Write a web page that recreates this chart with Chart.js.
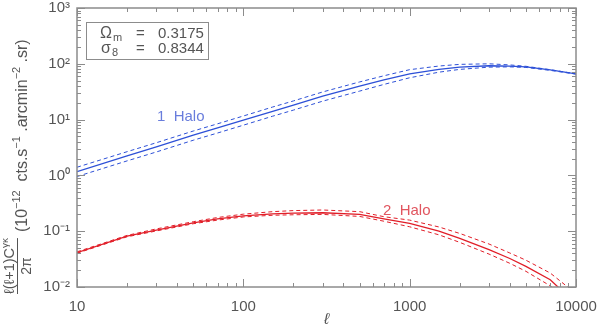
<!DOCTYPE html>
<html>
<head>
<meta charset="utf-8">
<script src="https://cdn.jsdelivr.net/npm/chart.js@4.4.1/dist/chart.umd.min.js"></script>
<style>
  html, body { margin: 0; padding: 0; background: #fff; }
  #wrap { width: 600px; height: 331px; position: relative; }
</style>
</head>
<body>
<div id="wrap"><canvas id="clChart"></canvas></div>
<script>
// multipole grid
const ell = [10, 20, 30, 50, 70, 100, 150, 200, 300, 500, 700, 1000, 1500, 2000, 3000, 4000, 5000, 7000, 10000];

// 1 halo term (solid) and its dashed envelope
const oneHalo      = [1.17, 2.24, 3.24, 5.25, 7.08, 9.77, 14.1, 18.2, 26.3, 39.8, 51.3, 66.1, 79.4, 87.1, 92.3, 91.2, 88.1, 77.6, 66.1];
const oneHaloUpper = [1.40, 2.66, 3.85, 6.24, 8.41, 11.6, 16.8, 21.6, 31.3, 47.3, 61.0, 78.5, 91.2, 97.7, 100.0, 95.5, 90.2, 78.5, 66.1];
const oneHaloLower = [0.955, 1.82, 2.63, 4.27, 5.75, 7.94, 11.5, 14.8, 21.4, 32.4, 42.7, 56.2, 70.8, 79.4, 87.1, 88.1, 86.1, 76.2, 65.3];

// 2 halo term (solid) and its dashed envelope
const twoHalo      = [0.0412, 0.0813, 0.105, 0.141, 0.166, 0.188, 0.204, 0.211, 0.214, 0.200, 0.166, 0.138, 0.100, 0.0741, 0.0468, 0.0324, 0.0234, 0.0135, 0.0050];
const twoHaloUpper = [0.0427, 0.0841, 0.110, 0.148, 0.176, 0.202, 0.224, 0.234, 0.240, 0.224, 0.182, 0.158, 0.119, 0.0912, 0.0589, 0.0407, 0.0302, 0.0178, 0.0076];
const twoHaloLower = [0.0403, 0.0794, 0.101, 0.136, 0.158, 0.180, 0.193, 0.197, 0.200, 0.184, 0.151, 0.120, 0.0861, 0.0631, 0.0389, 0.0266, 0.0191, 0.0105, 0.0040];

const xTicks = [10, 100, 1000, 10000];
const yTicks = [0.01, 0.1, 1, 10, 100, 1000];
const yTickLabels = ['10\u207B\u00B2', '10\u207B\u00B9', '10\u2070', '10\u00B9', '10\u00B2', '10\u00B3'];

const BLUE = 'rgb(45, 80, 215)';
const RED = 'rgb(225, 30, 40)';
const AXIS = 'rgb(140, 140, 140)';
const TEXT = 'rgb(85, 85, 85)';
const FONT = '"Liberation Sans", Arial, sans-serif';

function pts(ys) {
    return ell.map((x, i) => ({ x: x, y: ys[i] }));
}

function series(ys, color, dashed) {
    return {
        data: pts(ys),
        borderColor: color,
        borderWidth: dashed ? 1 : 1.3,
        borderDash: dashed ? [4, 3] : [],
        pointRadius: 0,
        showLine: true,
        tension: 0,
        fill: false
    };
}

// draw a run of text pieces, some raised/lowered and smaller
function drawRuns(ctx, x, y, runs, size) {
    let cx = x;
    runs.forEach(r => {
        const s = r.sup || r.sub ? size * 0.68 : size;
        ctx.font = s + 'px ' + FONT;
        const dy = r.sup ? -size * 0.42 : (r.sub ? size * 0.25 : 0);
        ctx.fillText(r.t, cx, y + dy);
        cx += ctx.measureText(r.t).width;
    });
    return cx - x;
}

function runsWidth(ctx, runs, size) {
    let w = 0;
    runs.forEach(r => {
        const s = r.sup || r.sub ? size * 0.68 : size;
        ctx.font = s + 'px ' + FONT;
        w += ctx.measureText(r.t).width;
    });
    return w;
}

const decorations = {
    id: 'decorations',
    afterDraw(chart) {
        const ctx = chart.ctx;
        const a = chart.chartArea;
        const xs = chart.scales.x;
        const ys = chart.scales.y;
        ctx.save();

        // frame
        ctx.strokeStyle = AXIS;
        ctx.lineWidth = 1.5;
        ctx.strokeRect(a.left, a.top, a.right - a.left, a.bottom - a.top);

        // inward ticks on all four sides
        ctx.lineWidth = 1;
        ctx.beginPath();
        for (let d = 10; d <= 10000; d *= 10) {
            for (let k = 1; k <= 9; k++) {
                const v = k * d;
                if (v > 10000) break;
                const px = Math.round(xs.getPixelForValue(v)) + 0.5;
                const len = k === 1 ? 8 : 4;
                ctx.moveTo(px, a.bottom); ctx.lineTo(px, a.bottom - len);
                ctx.moveTo(px, a.top); ctx.lineTo(px, a.top + len);
            }
        }
        for (let d = 0.01; d <= 1000; d *= 10) {
            for (let k = 1; k <= 9; k++) {
                const v = k * d;
                if (v > ys.max * 1.0001) continue;
                const py = Math.round(ys.getPixelForValue(v)) + 0.5;
                const len = k === 1 ? 8 : 4;
                ctx.moveTo(a.left, py); ctx.lineTo(a.left + len, py);
                ctx.moveTo(a.right, py); ctx.lineTo(a.right - len, py);
            }
        }
        ctx.stroke();

        // parameter box
        ctx.strokeStyle = AXIS;
        ctx.lineWidth = 1;
        ctx.strokeRect(86.5, 22.5, 122, 37);
        ctx.fillStyle = TEXT;
        ctx.textBaseline = 'alphabetic';
        ctx.textAlign = 'left';
        ctx.font = '16px ' + FONT;
        ctx.fillText('\u03A9', 100, 38);
        ctx.fillText('\u03C3', 101, 53);
        ctx.font = '11px ' + FONT;
        ctx.fillText('m', 113, 41);
        ctx.fillText('8', 112, 56);
        ctx.font = '15px ' + FONT;
        ctx.fillText('=', 136, 38);
        ctx.fillText('=', 136, 53);
        ctx.fillText('0.3175', 158, 38);
        ctx.fillText('0.8344', 158, 53);

        // curve labels
        ctx.font = '15px ' + FONT;
        ctx.fillStyle = 'rgb(105, 125, 220)';
        ctx.fillText('1  Halo', 157, 121);
        ctx.fillStyle = 'rgb(225, 85, 95)';
        ctx.fillText('2  Halo', 383, 215);

        // y axis title, rotated
        ctx.save();
        ctx.rotate(-Math.PI / 2);
        ctx.fillStyle = TEXT;
        // fraction: numerator / bar / denominator
        const num = [{ t: '\u2113(\u2113+1)C' }, { t: '\u03B3\u03BA', sup: true }];
        const nw = runsWidth(ctx, num, 14.5);
        const fx0 = -294;
        drawRuns(ctx, fx0, 14, num, 14.5);
        ctx.strokeStyle = TEXT;
        ctx.lineWidth = 1;
        ctx.beginPath();
        ctx.moveTo(fx0, 17.5);
        ctx.lineTo(fx0 + nw, 17.5);
        ctx.stroke();
        ctx.font = '14px ' + FONT;
        const dw = ctx.measureText('2\u03C0').width;
        ctx.fillText('2\u03C0', fx0 + (nw - dw) / 2, 31);
        // units
        const units = [
            { t: '(10' }, { t: '\u221212', sup: true },
            { t: '  cts.s' }, { t: '\u22121', sup: true },
            { t: ' .arcmin' }, { t: '\u22122', sup: true },
            { t: ' .sr)' }
        ];
        drawRuns(ctx, -232, 27, units, 16);
        ctx.restore();

        ctx.restore();
    }
};

new Chart(document.getElementById('clChart').getContext('2d'), {
    type: 'scatter',
    data: {
        datasets: [
            series(oneHalo, BLUE, false),
            series(oneHaloUpper, BLUE, true),
            series(oneHaloLower, BLUE, true),
            series(twoHalo, RED, false),
            series(twoHaloUpper, RED, true),
            series(twoHaloLower, RED, true)
        ]
    },
    options: {
        responsive: true,
        maintainAspectRatio: false,
        animation: false,
        layout: { padding: { top: 8, right: 24, left: 0, bottom: 0 } },
        plugins: {
            legend: { display: false },
            tooltip: { enabled: false }
        },
        scales: {
            x: {
                type: 'logarithmic',
                min: 10,
                max: 10000,
                grid: { display: false, drawTicks: false },
                border: { display: false },
                afterBuildTicks: scale => { scale.ticks = xTicks.map(v => ({ value: v })); },
                afterFit: scale => {
                    scale.height = 44;
                    scale.paddingLeft = 0;
                    scale.paddingRight = 0;
                },
                ticks: {
                    color: TEXT,
                    font: { family: FONT, size: 15 },
                    padding: 11,
                    maxRotation: 0,
                    autoSkip: false,
                    callback: v => String(v)
                },
                title: {
                    display: true,
                    text: '\u2113',
                    color: TEXT,
                    font: { family: FONT, size: 16, style: 'italic' },
                    padding: { top: 0, bottom: 2 }
                }
            },
            y: {
                type: 'logarithmic',
                min: 0.01,
                max: 1000,
                grid: { display: false, drawTicks: false },
                border: { display: false },
                afterBuildTicks: scale => { scale.ticks = yTicks.map(v => ({ value: v })); },
                afterFit: scale => {
                    scale.width = 77;
                    scale.paddingTop = 0;
                    scale.paddingBottom = 0;
                },
                ticks: {
                    color: TEXT,
                    font: { family: FONT, size: 15 },
                    padding: 7,
                    autoSkip: false,
                    callback: v => {
                        const i = yTicks.findIndex(t => Math.abs(t - v) / t < 1e-6);
                        return i >= 0 ? yTickLabels[i] : '';
                    }
                }
            }
        }
    },
    plugins: [decorations]
});
</script>
</body>
</html>
